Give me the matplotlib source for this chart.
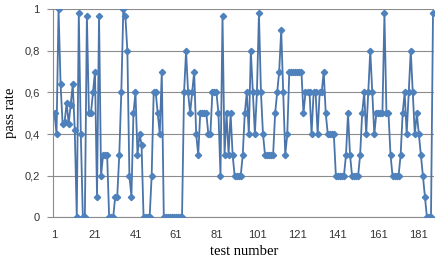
import numpy as np
import matplotlib.pyplot as plt

# pass rate for each test
pass_rate = [
    0.5, 0.4, 1.0, 0.64, 0.45, 0.46, 0.55, 0.45, 0.54, 0.64,
    0.42, 0.0, 0.98, 0.4, 0.0, 0.0, 0.97, 0.5, 0.5, 0.6,
    0.7, 0.1, 0.97, 0.2, 0.3, 0.3, 0.3, 0.0, 0.0, 0.0,
    0.1, 0.1, 0.3, 0.6, 1.0, 0.97, 0.8, 0.2, 0.1, 0.5,
    0.6, 0.3, 0.4, 0.35, 0.0, 0.0, 0.0, 0.0, 0.2, 0.6,
    0.6, 0.5, 0.4, 0.7, 0.0, 0.0, 0.0, 0.0, 0.0, 0.0,
    0.0, 0.0, 0.0, 0.0, 0.6, 0.8, 0.6, 0.5, 0.6, 0.7,
    0.4, 0.3, 0.5, 0.5, 0.5, 0.5, 0.4, 0.4, 0.6, 0.6,
    0.6, 0.5, 0.2, 0.97, 0.3, 0.5, 0.3, 0.5, 0.3, 0.2,
    0.2, 0.2, 0.2, 0.3, 0.5, 0.6, 0.4, 0.8, 0.6, 0.4,
    0.6, 0.98, 0.6, 0.4, 0.3, 0.3, 0.3, 0.3, 0.3, 0.5,
    0.6, 0.7, 0.9, 0.6, 0.3, 0.4, 0.7, 0.7, 0.7, 0.7,
    0.7, 0.7, 0.7, 0.5, 0.6, 0.6, 0.6, 0.4, 0.6, 0.6,
    0.4, 0.6, 0.6, 0.7, 0.5, 0.4, 0.4, 0.4, 0.4, 0.2,
    0.2, 0.2, 0.2, 0.2, 0.3, 0.5, 0.3, 0.2, 0.2, 0.2,
    0.2, 0.3, 0.5, 0.6, 0.4, 0.6, 0.8, 0.6, 0.4, 0.5,
    0.5, 0.5, 0.5, 0.98, 0.5, 0.5, 0.3, 0.2, 0.2, 0.2,
    0.2, 0.3, 0.5, 0.6, 0.4, 0.6, 0.8, 0.6, 0.4, 0.5,
    0.4, 0.3, 0.2, 0.1, 0.0, 0.0, 0.0, 0.98,
]
test_number = np.arange(1, len(pass_rate) + 1)
x_ticks = list(range(1, 182, 20))
y_ticks = [0, 0.2, 0.4, 0.6, 0.8, 1.0]
y_labels = ["0", "0,2", "0,4", "0,6", "0,8", "1"]

fig = plt.figure(figsize=(4.48, 2.61), dpi=100)
ax = fig.add_axes([0.1194, 0.1674, 0.8494, 0.797])

ax.plot(test_number, pass_rate, color="#4a74aa", lw=1.3, marker="D",
        ms=3.2, mfc="#4f81bd", mec="#4f81bd", zorder=3)

ax.set_xlim(0.5, len(pass_rate) + 0.5)
ax.set_ylim(0, 1)
ax.set_yticks(y_ticks)
ax.set_yticklabels(y_labels)
ax.set_xticks(x_ticks)
ax.set_xticklabels([str(t) for t in x_ticks])

ax.yaxis.grid(True, color="#8c8c8c", lw=0.8)
ax.set_axisbelow(True)
for s in ["top", "right"]:
    ax.spines[s].set_visible(False)
ax.spines["left"].set_color("#8c8c8c")
ax.spines["bottom"].set_color("#8c8c8c")
ax.tick_params(axis="y", length=4, color="#8c8c8c", labelsize=8, pad=6)
ax.tick_params(axis="x", length=0, labelsize=8, pad=9)
for lab in ax.get_xticklabels() + ax.get_yticklabels():
    lab.set_family("Liberation Sans")
    lab.set_color("#333333")

ax.set_xlabel("test number", family="Liberation Serif", fontsize=10.5, labelpad=4)
ax.set_ylabel("pass rate", family="Liberation Serif", fontsize=10.5, labelpad=5)

fig.savefig("out.png", dpi=100)
